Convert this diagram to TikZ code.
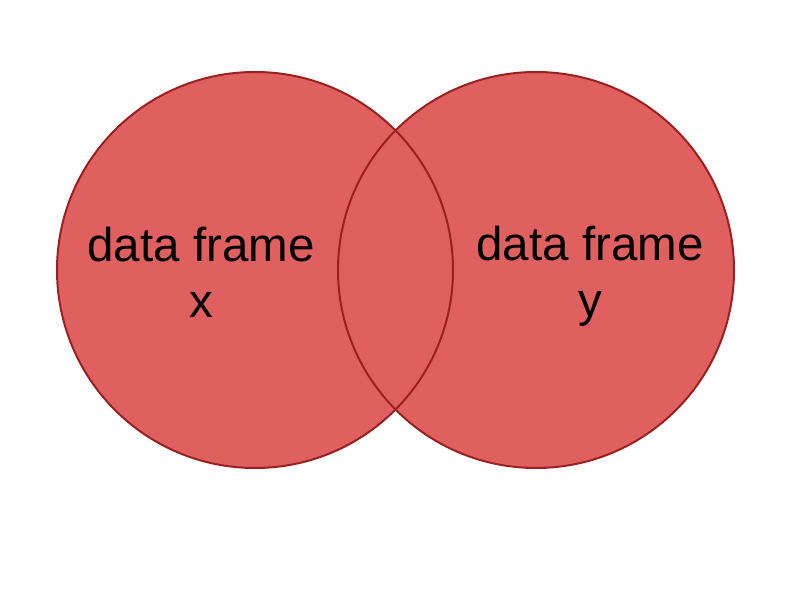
\documentclass[tikz,border=0pt]{standalone}
\usepackage{fontspec}
\setmainfont{Liberation Sans}
\definecolor{setfill}{HTML}{E06060}
\definecolor{setline}{HTML}{9B2020}
\begin{document}
\begin{tikzpicture}[x=1pt,y=1pt,
  setcircle/.style={circle,fill=setfill,draw=none,minimum size=396pt,inner sep=0pt},
  setoutline/.style={circle,draw=setline,line width=2pt,minimum size=396pt,inner sep=0pt},
  label/.style={align=center,font=\fontsize{47.5}{56}\selectfont,text=black}]
\useasboundingbox (0,0) rectangle (792,612);
\node[setcircle] (xf) at (255,342) {};
\node[setcircle] (yf) at (536,342) {};
\node[setoutline] (xo) at (255,342) {};
\node[setoutline] (yo) at (536,342) {};
\node[label] (xt) at (201,340) {data frame\\x};
\node[label] (yt) at (590,336) {data frame\\y};
\end{tikzpicture}
\end{document}
